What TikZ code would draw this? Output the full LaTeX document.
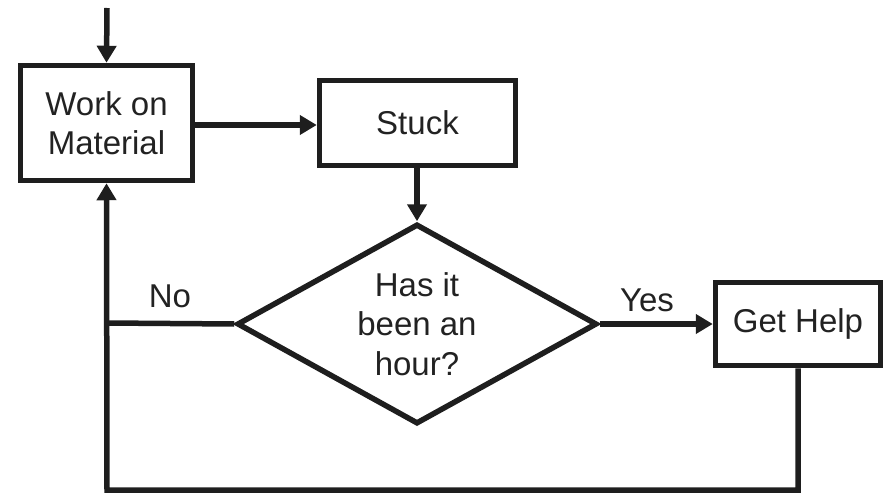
\documentclass[tikz,border=0pt]{standalone}
\usepackage{fontspec}
\setmainfont{Liberation Sans}
\usetikzlibrary{shapes.geometric,arrows.meta}
\definecolor{ink}{HTML}{1E1E1E}
\definecolor{txt}{HTML}{222222}
\begin{document}
\begin{tikzpicture}[x=1pt,y=-1pt,
  every node/.style={text=txt,font=\fontsize{33}{39.5}\selectfont},
  boxnode/.style={draw=ink,line width=5.5pt,rectangle,inner sep=0pt,align=center},
  decide/.style={draw=ink,line width=5.5pt,diamond,aspect=1.8,inner sep=0pt,align=center,
    minimum width=360pt,minimum height=200pt},
  conn/.style={draw=ink,line width=5.5pt},
  arr/.style={conn,-{Triangle[width=19pt,length=17pt]}},
  lab/.style={inner sep=0pt}]
\useasboundingbox (0,0) rectangle (886,495);
\node[boxnode,minimum width=172pt,minimum height=115pt] (work) at (106.5,123) {Work on\\Material};
\node[boxnode,minimum width=196pt,minimum height=85pt] (stuck) at (417.5,123) {Stuck};
\node[decide] (hour) at (417,324) {Has it\\been an\\hour?};
\node[boxnode,minimum width=165pt,minimum height=83pt] (help) at (798,324) {Get Help};
\coordinate (start) at (107,8);
\coordinate (br) at (798,490);
\coordinate (bl) at (107,490);
\coordinate (join) at (107,323);
\node[lab] (yes) at (647,300) {Yes};
\node[lab] (no) at (170,296) {No};
\draw[arr] (start) -- (work.north);
\draw[arr] (work.east |- 0,125) -- (stuck.west |- 0,125);
\draw[arr] (stuck.south -| hour.north) -- (hour.north);
\draw[arr] (hour.east) -- (help.west);
\draw[arr] (help.south) -- (br) -- (bl) -- (work.south);
\draw[conn] (hour.west) -- (join);
\end{tikzpicture}
\end{document}
